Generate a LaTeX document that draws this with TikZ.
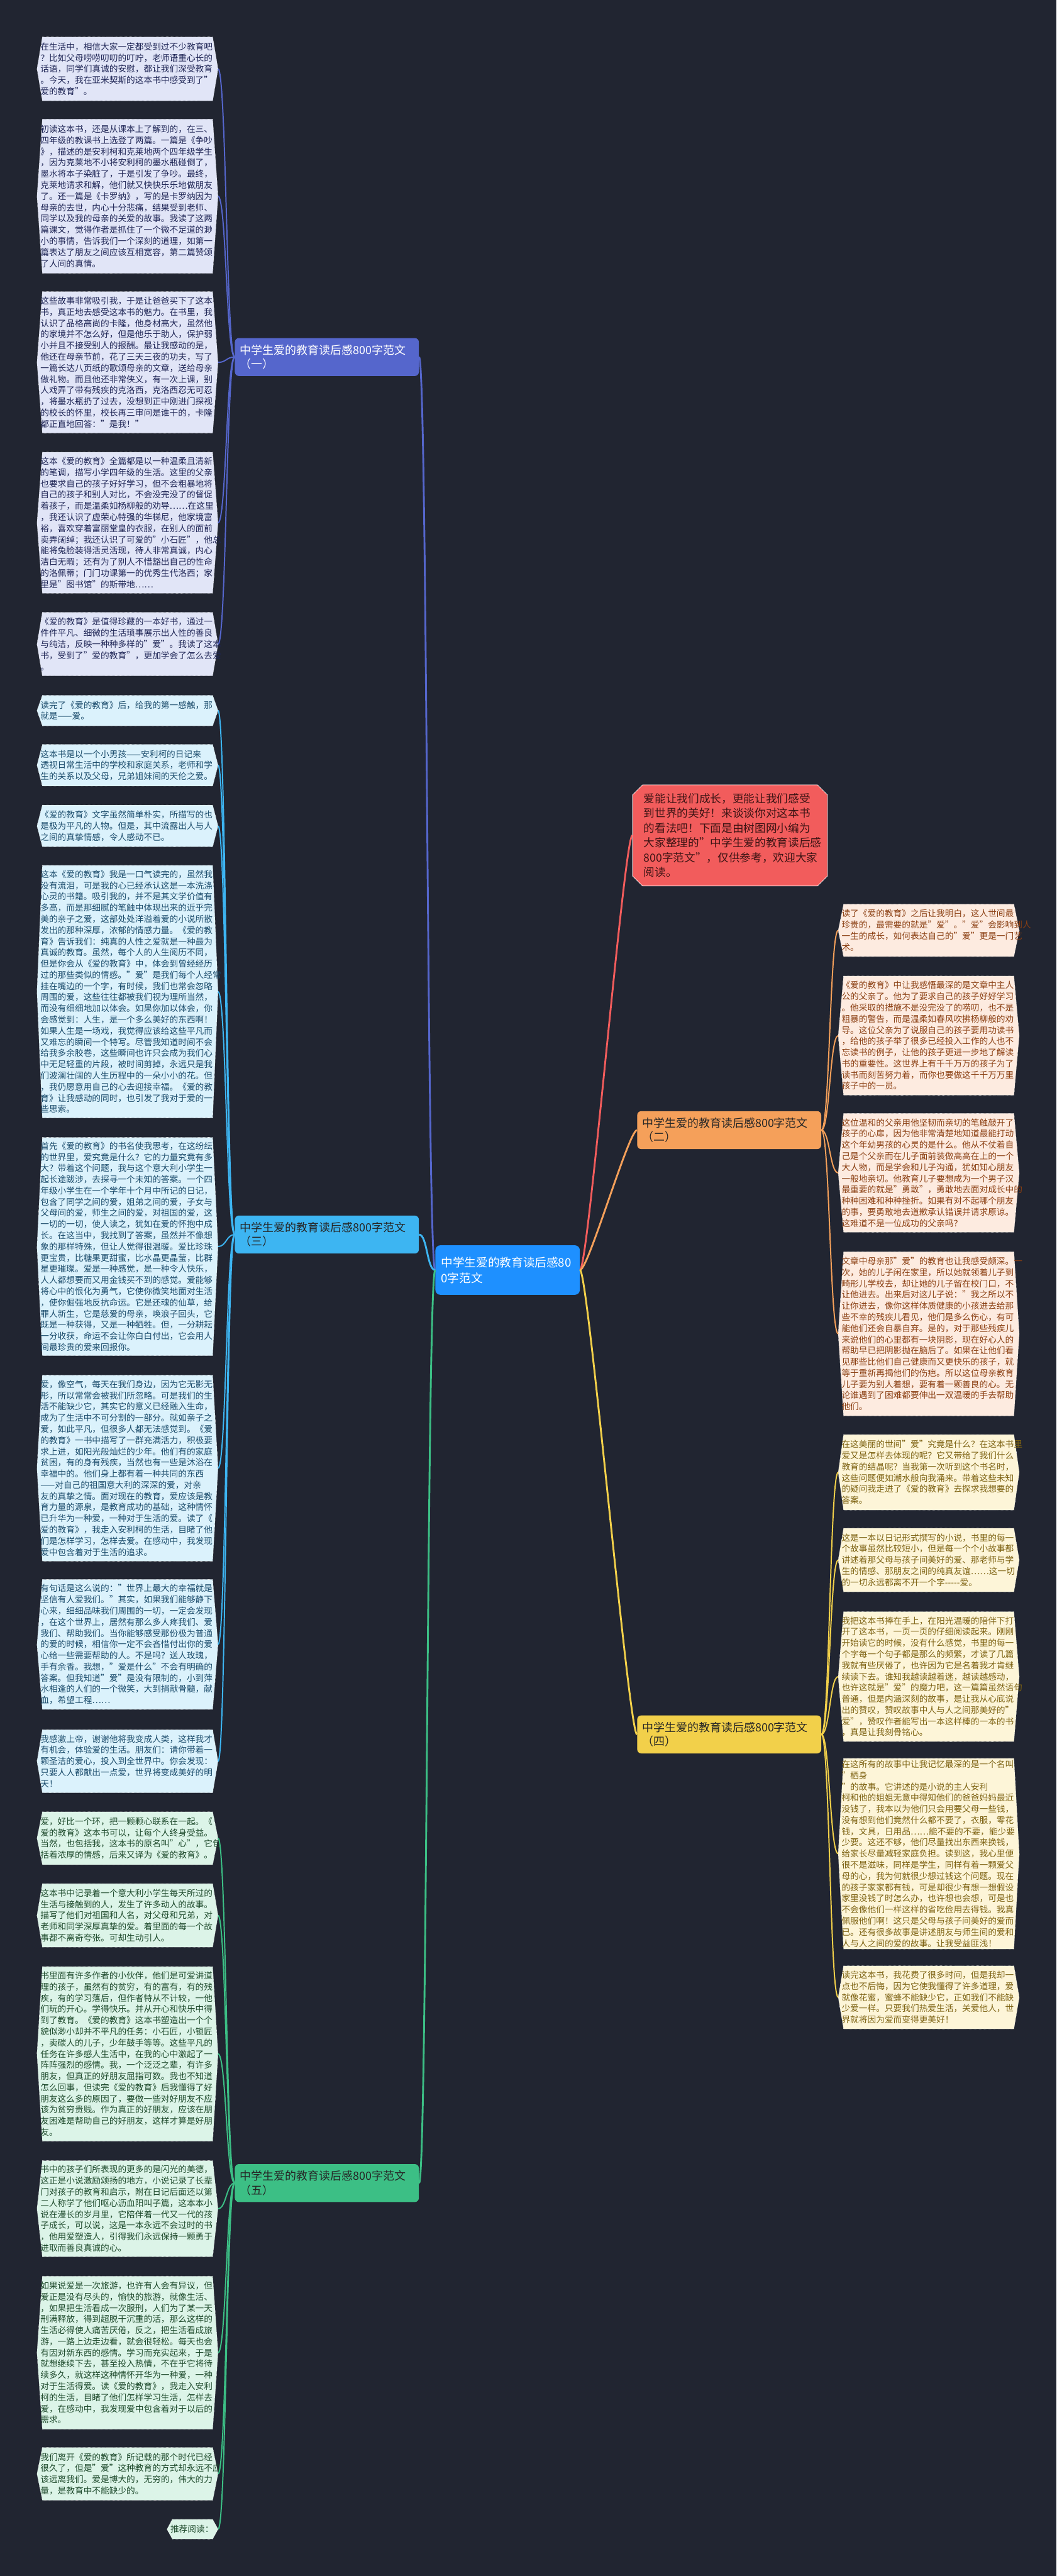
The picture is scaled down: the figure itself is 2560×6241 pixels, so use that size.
\documentclass[tikz,border=0pt]{standalone}
\usepackage{fontspec}
\setmainfont{Noto Sans CJK SC}
\usetikzlibrary{calc,shapes.misc}
\pgfdeclarelayer{bg}
\pgfsetlayers{bg,main}
\definecolor{bgc}{HTML}{212531}
\definecolor{cA}{HTML}{5566CC}\definecolor{fA}{HTML}{E1E5F7}\definecolor{tA}{HTML}{1F2656}
\definecolor{cC}{HTML}{3DB5F2}\definecolor{fC}{HTML}{DBF2FC}\definecolor{tC}{HTML}{1B4C6C}
\definecolor{cE}{HTML}{3CBF85}\definecolor{fE}{HTML}{DCF4E8}\definecolor{tE}{HTML}{1E4A2C}
\definecolor{cB}{HTML}{F5A05A}\definecolor{fB}{HTML}{FDEBE0}\definecolor{tB}{HTML}{8B3F12}
\definecolor{cD}{HTML}{F2D04A}\definecolor{fD}{HTML}{FDF5D8}\definecolor{tD}{HTML}{7D6212}
\definecolor{cR}{HTML}{F25C5C}\definecolor{tR}{HTML}{3D1414}
\definecolor{cM}{HTML}{1E90FF}
\newcommand\leaffont{\fontsize{10.43pt}{13.55pt}\selectfont}
\newcommand\leafnode[7]{%
  \node[leaf,#5,minimum height=#4*0.5pt,#6] (#1) at (#2,#3) {#7};
  \begin{pgfonlayer}{bg}
  \path[#5fill] ($(#1.north west)+(6.5pt,0)$) -- ($(#1.north east)+(-6.5pt,0)$) -- (#1.east)
    -- ($(#1.south east)+(-6.5pt,0)$) -- ($(#1.south west)+(6.5pt,0)$) -- (#1.west) -- cycle;
  \end{pgfonlayer}}
\begin{document}
\begin{tikzpicture}[x=0.5pt,y=-0.5pt,
  leaf/.style={text width=211pt,inner xsep=4pt,inner ysep=2pt,align=left,font=\leaffont},
  gA/.style={text=tA},gAfill/.style={fill=fA,draw=white!80!gray,line width=0.5pt,densely dotted},
  gC/.style={text=tC},gCfill/.style={fill=fC,draw=white!80!gray,line width=0.5pt,densely dotted},
  gE/.style={text=tE},gEfill/.style={fill=fE,draw=white!80!gray,line width=0.5pt,densely dotted},
  gB/.style={text=tB},gBfill/.style={fill=fB,draw=white!80!gray,line width=0.5pt,densely dotted},
  gD/.style={text=tD},gDfill/.style={fill=fD,draw=white!80!gray,line width=0.5pt,densely dotted},
  branch/.style={rounded corners=5pt,minimum width=223pt,minimum height=46pt,text width=211pt,
    inner xsep=6pt,align=left,font=\fontsize{13.7pt}{17pt}\selectfont},
  leafconn/.style={line width=1.5pt},
  mainconn/.style={line width=2.2pt}]
\useasboundingbox (0,0) rectangle (2560,6241);
\begin{pgfonlayer}{bg}
\fill[bgc] (0,0) rectangle (2560,6241);
\end{pgfonlayer}

% centre and branches
\node[rounded corners=6pt,fill=cM,text=white,minimum width=175pt,minimum height=60pt,text width=161pt,
  inner xsep=7pt,align=left,font=\fontsize{14.2pt}{19pt}\selectfont] (M) at (1230,3077)
  {中学生爱的教育读后感80\\0字范文};
\node[branch,fill=cA,text=white] (b1) at (792,865) {中学生爱的教育读后感800字范文\\（一）};
\node[branch,fill=cC,text=black!85] (b3) at (792,2991) {中学生爱的教育读后感800字范文\\（三）};
\node[branch,fill=cE,text=black!85] (b5) at (792,5289) {中学生爱的教育读后感800字范文\\（五）};
\node[branch,fill=cB,text=black!85] (b2) at (1767,2738) {中学生爱的教育读后感800字范文\\（二）};
\node[branch,fill=cD,text=black!85] (b4) at (1767,4202) {中学生爱的教育读后感800字范文\\（四）};
\node[chamfered rectangle,chamfered rectangle xsep=6pt,chamfered rectangle ysep=6pt,fill=cR,draw=white,line width=0.6pt,
  text=tR,minimum width=224pt,minimum height=122.5pt,text width=209pt,inner xsep=7.5pt,align=left,
  font=\fontsize{13.45pt}{17.85pt}\selectfont] (R) at (1769,2024)
  {爱能让我们成长，更能让我们感受\\到世界的美好！来谈谈你对这本书\\的看法吧！下面是由树图网小编为\\大家整理的"中学生爱的教育读后感\\800字范文"，仅供参考，欢迎大家\\阅读。};

% (一)
\leafnode{L1}{309}{167}{154}{gA}{}{在生活中，相信大家一定都受到过不少教育吧\\？比如父母唠唠叨叨的叮咛，老师语重心长的\\话语，同学们真诚的安慰，都让我们深受教育\\。今天，我在亚米契斯的这本书中感受到了"\\爱的教育"。}
\leafnode{L2}{309}{475.5}{373}{gA}{}{初读这本书，还是从课本上了解到的，在三、\\四年级的教课书上选登了两篇。一篇是《争吵\\》，描述的是安利柯和克莱地两个四年级学生\\，因为克莱地不小将安利柯的墨水瓶碰倒了，\\墨水将本子染脏了，于是引发了争吵。最终，\\克莱地请求和解，他们就又快快乐乐地做朋友\\了。还一篇是《卡罗纳》，写的是卡罗纳因为\\母亲的去世，内心十分悲痛，结果受到老师、\\同学以及我的母亲的关爱的故事。我读了这两\\篇课文，觉得作者是抓住了一个微不足道的渺\\小的事情，告诉我们一个深刻的道理，如第一\\篇表达了朋友之间应该互相宽容，第二篇赞颂\\了人间的真情。}
\leafnode{L3}{309}{878}{342}{gA}{}{这些故事非常吸引我，于是让爸爸买下了这本\\书，真正地去感受这本书的魅力。在书里，我\\认识了品格高尚的卡隆，他身材高大，虽然他\\的家境并不怎么好，但是他乐于助人，保护弱\\小并且不接受别人的报酬。最让我感动的是，\\他还在母亲节前，花了三天三夜的功夫，写了\\一篇长达八页纸的歌颂母亲的文章，送给母亲\\做礼物。而且他还非常侠义，有一次上课，别\\人戏弄了带有残疾的克洛西，克洛西忍无可忍\\，将墨水瓶扔了过去，没想到正中刚进门探视\\的校长的怀里，校长再三审问是谁干的，卡隆\\都正直地回答："是我！"}
\leafnode{L4}{309}{1266.5}{341}{gA}{}{这本《爱的教育》全篇都是以一种温柔且清新\\的笔调，描写小学四年级的生活。这里的父亲\\也要求自己的孩子好好学习，但不会粗暴地将\\自己的孩子和别人对比，不会没完没了的督促\\着孩子，而是温柔如杨柳般的劝导……在这里\\，我还认识了虚荣心特强的华梯尼，他家境富\\裕，喜欢穿着富丽堂皇的衣服，在别人的面前\\卖弄阔绰；我还认识了可爱的"小石匠"，他总\\能将兔脸装得活灵活现，待人非常真诚，内心\\洁白无暇；还有为了别人不惜豁出自己的性命\\的洛佩蒂；门门功课第一的优秀生代洛西；家\\里是"图书馆"的斯带地……}
\leafnode{L5}{309}{1560.5}{153}{gA}{}{《爱的教育》是值得珍藏的一本好书，通过一\\件件平凡、细微的生活琐事展示出人性的善良\\与纯洁，反映一种种多样的"爱"。我读了这本\\书，受到了"爱的教育"，更加学会了怎么去爱\\。}

% (三)
\leafnode{L6}{309}{1721.5}{73}{gC}{}{读完了《爱的教育》后，给我的第一感触，那\\就是——爱。}
\leafnode{L7}{309}{1854}{100}{gC}{}{这本书是以一个小男孩——安利柯的日记来\\透视日常生活中的学校和家庭关系，老师和学\\生的关系以及父母，兄弟姐妹间的天伦之爱。}
\leafnode{L8}{309}{2001}{100}{gC}{}{《爱的教育》文字虽然简单朴实，所描写的也\\是极为平凡的人物。但是，其中流露出人与人\\之间的真挚情感，令人感动不已。}
\leafnode{L9}{309}{2402.5}{611}{gC}{}{这本《爱的教育》我是一口气读完的，虽然我\\没有流泪，可是我的心已经承认这是一本洗涤\\心灵的书籍。吸引我的，并不是其文学价值有\\多高，而是那细腻的笔触中体现出来的近乎完\\美的亲子之爱，这部处处洋溢着爱的小说所散\\发出的那种深厚，浓郁的情感力量。《爱的教\\育》告诉我们：纯真的人性之爱就是一种最为\\真诚的教育。虽然，每个人的人生阅历不同，\\但是你会从《爱的教育》中，体会到曾经经历\\过的那些类似的情感。"爱"是我们每个人经常\\挂在嘴边的一个字，有时候，我们也常会忽略\\周围的爱，这些往往都被我们视为理所当然，\\而没有细细地加以体会。如果你加以体会，你\\会感觉到：人生，是一个多么美好的东西啊！\\如果人生是一场戏，我觉得应该给这些平凡而\\又难忘的瞬间一个特写。尽管我知道时间不会\\给我多余胶卷，这些瞬间也许只会成为我们心\\中无足轻重的片段，被时间剪掉，永远只是我\\们波澜壮阔的人生历程中的一朵小小的花。但\\，我仍愿意用自己的心去迎接幸福。《爱的教\\育》让我感动的同时，也引发了我对于爱的一\\些思索。}
\leafnode{L10}{309}{3020}{528}{gC}{}{首先《爱的教育》的书名使我思考，在这纷纭\\的世界里，爱究竟是什么？它的力量究竟有多\\大？带着这个问题，我与这个意大利小学生一\\起长途跋涉，去探寻一个未知的答案。一个四\\年级小学生在一个学年十个月中所记的日记，\\包含了同学之间的爱，姐弟之间的爱，子女与\\父母间的爱，师生之间的爱，对祖国的爱，这\\一切的一切，使人读之，犹如在爱的怀抱中成\\长。在这当中，我找到了答案，虽然并不像想\\象的那样特殊，但让人觉得很温暖。爱比珍珠\\更宝贵，比糖果更甜蜜，比水晶更晶莹，比群\\星更璀璨。爱是一种感觉，是一种令人快乐，\\人人都想要而又用金钱买不到的感觉。爱能够\\将心中的恨化为勇气，它使你微笑地面对生活\\，使你倔强地反抗命运。它是还魂的仙草，给\\罪人新生，它是慈爱的母亲，唤浪子回头，它\\既是一种获得，又是一种牺牲。但，一分耕耘\\一分收获，命运不会让你白白付出，它会用人\\间最珍贵的爱来回报你。}
\leafnode{L11}{309}{3557}{450}{gC}{}{爱，像空气，每天在我们身边，因为它无影无\\形，所以常常会被我们所忽略。可是我们的生\\活不能缺少它，其实它的意义已经融入生命，\\成为了生活中不可分割的一部分。就如亲子之\\爱，如此平凡，但很多人都无法感觉到。《爱\\的教育》一书中描写了一群充满活力，积极要\\求上进，如阳光般灿烂的少年。他们有的家庭\\贫困，有的身有残疾，当然也有一些是沐浴在\\幸福中的。他们身上都有着一种共同的东西\\——对自己的祖国意大利的深深的爱，对亲\\友的真挚之情。面对现在的教育，爱应该是教\\育力量的源泉，是教育成功的基础，这种情怀\\已升华为一种爱，一种对于生活的爱。读了《\\爱的教育》，我走入安利柯的生活，目睹了他\\们是怎样学习，怎样去爱。在感动中，我发现\\爱中包含着对于生活的追求。}
\leafnode{L12}{309}{3984}{314}{gC}{}{有句话是这么说的："世界上最大的幸福就是\\坚信有人爱我们。"其实，如果我们能够静下\\心来，细细品味我们周围的一切，一定会发现\\，在这个世界上，居然有那么多人疼我们、爱\\我们、帮助我们。当你能够感受那份极为普通\\的爱的时候，相信你一定不会吝惜付出你的爱\\心给一些需要帮助的人。不是吗？送人玫瑰，\\手有余香。我想，"爱是什么"不会有明确的\\答案。但我知道"爱"是没有限制的，小到萍\\水相逢的人们的一个微笑，大到捐献骨髓，献\\血，希望工程……}
\leafnode{L13}{309}{4267}{152}{gC}{}{我感激上帝，谢谢他将我变成人类，这样我才\\有机会，体验爱的生活。朋友们：请你带着一\\颗圣洁的爱心，投入到全世界中。你会发现：\\只要人人都献出一点爱，世界将变成美好的明\\天！}

% (五)
\leafnode{L14}{309}{4453.5}{127}{gE}{}{爱，好比一个环，把一颗颗心联系在一起。《\\爱的教育》这本书可以，让每个人终身受益。\\当然，也包括我，这本书的原名叫"心"，它包\\括着浓厚的情感，后来又译为《爱的教育》。}
\leafnode{L15}{309}{4640.5}{153}{gE}{}{这本书中记录着一个意大利小学生每天所过的\\生活与接触到的人，发生了许多动人的故事。\\描写了他们对祖国和人名，对父母和兄弟，对\\老师和同学深厚真挚的爱。着里面的每一个故\\事都不离奇夸张。可却生动引人。}
\leafnode{L16}{309}{4976}{422}{gE}{}{书里面有许多作者的小伙伴，他们是可爱讲道\\理的孩子，虽然有的贫穷，有的富有，有的残\\疾，有的学习落后，但作者特从不计较，一他\\们玩的开心。学得快乐。并从开心和快乐中得\\到了教育。《爱的教育》这本书塑造出一个个\\貌似渺小却并不平凡的任务：小石匠，小锁匠\\，卖碳人的儿子，少年鼓手等等。这些平凡的\\任务在许多感人生活中，在我的心中激起了一\\阵阵强烈的感情。我，一个泛泛之辈，有许多\\朋友，但真正的好朋友屈指可数。我也不知道\\怎么回事，但读完《爱的教育》后我懂得了好\\朋友这么多的原因了，要做一些对好朋友不应\\该为贫穷贵贱。作为真正的好朋友，应该在朋\\友困难是帮助自己的好朋友，这样才算是好朋\\友。}
\leafnode{L17}{309}{5351}{232}{gE}{}{书中的孩子们所表现的更多的是闪光的美德，\\这正是小说激励颂扬的地方，小说记录了长辈\\门对孩子的教育和启示，附在日记后面还以第\\二人称学了他们呕心沥血阳叫子篇，这本本小\\说在漫长的岁月里，它陪伴着一代又一代的孩\\子成长，可以说，这是一本永远不会过时的书\\，他用爱塑造人，引得我们永远保持一颗勇于\\进取而善良真诚的心。}
\leafnode{L18}{309}{5700}{370}{gE}{}{如果说爱是一次旅游，也许有人会有异议，但\\爱正是没有尽头的，愉快的旅游，就像生活、\\，如果把生活看成一次服刑，人们为了某一天\\刑满释放，得到超脱干沉重的活，那么这样的\\生活必得使人痛苦厌倦，反之，把生活看成旅\\游，一路上边走边看，就会很轻松。每天也会\\有因对新东西的感情。学习而充实起来，于是\\就想继续下去，甚至投入热情，不在乎它将待\\续多久，就这样这种情怀开华为一种爱，一种\\对于生活得爱。读《爱的教育》，我走入安利\\柯的生活，目睹了他们怎样学习生活，怎样去\\爱，在感动中，我发现爱中包含着对于以后的\\需求。}
\leafnode{L19}{309}{5993.5}{127}{gE}{}{我们离开《爱的教育》所记载的那个时代已经\\很久了，但是"爱"这种教育的方式却永远不应\\该远离我们。爱是博大的，无穷的，伟大的力\\量，是教育中不能缺少的。}
\leafnode{L20}{466.5}{6127.5}{47}{gE}{text width=53.5pt}{推荐阅读：}

% (二)
\leafnode{R1}{2250.5}{2254}{126}{gB}{}{读了《爱的教育》之后让我明白，这人世间最\\珍贵的，最需要的就是"爱"。"爱"会影响到人\\一生的成长，如何表达自己的"爱"更是一门艺\\术。}
\leafnode{R2}{2250.5}{2509}{288}{gB}{}{《爱的教育》中让我感悟最深的是文章中主人\\公的父亲了。他为了要求自己的孩子好好学习\\。他采取的措施不是没完没了的唠叨，也不是\\粗暴的警告，而是温柔如春风吹拂杨柳般的劝\\导。这位父亲为了说服自己的孩子要用功读书\\，给他的孩子举了很多已经投入工作的人也不\\忘读书的例子，让他的孩子更进一步地了解读\\书的重要性。这世界上有千千万万的孩子为了\\读书而刻苦努力着，而你也要做这千千万万里\\孩子中的一员。}
\leafnode{R3}{2250.5}{2841.5}{287}{gB}{}{这位温和的父亲用他坚韧而亲切的笔触敲开了\\孩子的心扉，因为他非常清楚地知道最能打动\\这个年幼男孩的心灵的是什么。他从不仗着自\\己是个父亲而在儿子面前装做高高在上的一个\\大人物，而是学会和儿子沟通，犹如知心朋友\\一般地亲切。他教育儿子要想成为一个男子汉\\最重要的就是"勇敢"，勇敢地去面对成长中的\\种种困难和种种挫折。如果有对不起哪个朋友\\的事，要勇敢地去道歉承认错误并请求原谅。\\这难道不是一位成功的父亲吗？}
\leafnode{R4}{2250.5}{3231.5}{397}{gB}{}{文章中母亲那"爱"的教育也让我感受颇深。一\\次，她的儿子闲在家里，所以她就领着儿子到\\畸形儿学校去，却让她的儿子留在校门口，不\\让他进去。出来后对这儿子说："我之所以不\\让你进去，像你这样体质健康的小孩进去给那\\些不幸的残疾儿看见，他们是多么伤心，有可\\能他们还会自暴自弃。是的，对于那些残疾儿\\来说他们的心里都有一块阴影，现在好心人的\\帮助早已把阴影抛在脑后了。如果在让他们看\\见那些比他们自己健康而又更快乐的孩子，就\\等于重新再揭他们的伤疤。所以这位母亲教育\\儿子要为别人着想，要有着一颗善良的心。无\\论谁遇到了困难都要伸出一双温暖的手去帮助\\他们。}

% (四)
\leafnode{R5}{2250.5}{3567}{182}{gD}{}{在这美丽的世间"爱"究竟是什么？在这本书里\\爱又是怎样去体现的呢？它又带给了我们什么\\教育的结晶呢？当我第一次听到这个书名时，\\这些问题便如潮水般向我涌来。带着这些未知\\的疑问我走进了《爱的教育》去探求我想要的\\答案。}
\leafnode{R6}{2250.5}{3779.5}{153}{gD}{}{这是一本以日记形式撰写的小说，书里的每一\\个故事虽然比较短小，但是每一个个小故事都\\讲述着那父母与孩子间美好的爱、那老师与学\\生的情感、那朋友之间的纯真友谊……这一切\\的一切永远都离不开一个字-{}-{}-{}-{}-爱。}
\leafnode{R7}{2250.5}{4062}{314}{gD}{}{我把这本书捧在手上，在阳光温暖的陪伴下打\\开了这本书，一页一页的仔细阅读起来。刚刚\\开始读它的时候，没有什么感觉，书里的每一\\个字每一个句子都是那么的频繁，才读了几篇\\我就有些厌倦了，也许因为它是名着我才肯继\\续读下去。谁知我越读越着迷，越读越感动，\\也许这就是"爱"的魔力吧，这一篇篇虽然语句\\普通，但是内涵深刻的故事，是让我从心底说\\出的赞叹，赞叹故事中人与人之间那美好的"\\爱"，赞叹作者能写出一本这样棒的一本的书\\，真是让我刻骨铭心。}
\leafnode{R8}{2250.5}{4491}{452}{gD}{}{在这所有的故事中让我记忆最深的是一个名叫\\"栖身 "的故事。它讲述的是小说的主人安利\\柯和他的姐姐无意中得知他们的爸爸妈妈最近\\没钱了，我本以为他们只会用要父母一些钱，\\没有想到他们竟然什么都不要了，衣服，零花\\钱，文具，日用品……能不要的不要，能少要\\少要。这还不够，他们尽量找出东西来换钱，\\给家长尽量减轻家庭负担。读到这，我心里便\\很不是滋味，同样是学生，同样有着一颗爱父\\母的心，我为何就很少想过钱这个问题。现在\\的孩子家家都有钱，可是却很少有想一想假设\\家里没钱了时怎么办，也许想也会想，可是也\\不会像他们一样这样的省吃俭用去得钱。我真\\佩服他们啊！这只是父母与孩子间美好的爱而\\已。还有很多故事是讲述朋友与师生间的爱和\\人与人之间的爱的故事。让我受益匪浅！}
\leafnode{R9}{2250.5}{4839}{152}{gD}{}{读完这本书，我花费了很多时间，但是我却一\\点也不后悔，因为它使我懂得了许多道理，爱\\就像花蜜，蜜蜂不能缺少它，正如我们不能缺\\少爱一样。只要我们热爱生活，关爱他人，世\\界就将因为爱而变得更美好！}

% connectors
\draw[mainconn,cA] (M.west) .. controls +(-20,0) and +(20,0) .. (b1.east);
\draw[mainconn,cC] (M.west) .. controls +(-20,0) and +(20,0) .. (b3.east);
\draw[mainconn,cE] (M.west) .. controls +(-20,0) and +(20,0) .. (b5.east);
\draw[mainconn,cR] (M.east) .. controls +(20,0) and +(-20,0) .. (R.west);
\draw[mainconn,cB] (M.east) .. controls +(20,0) and +(-20,0) .. (b2.west);
\draw[mainconn,cD] (M.east) .. controls +(20,0) and +(-20,0) .. (b4.west);
\foreach \n in {L1,L2,L3,L4,L5}
  \draw[leafconn,cA] (b1.west) .. controls +(-20,0) and +(20,0) .. (\n.east);
\foreach \n in {L6,L7,L8,L9,L10,L11,L12,L13}
  \draw[leafconn,cC] (b3.west) .. controls +(-20,0) and +(20,0) .. (\n.east);
\foreach \n in {L14,L15,L16,L17,L18,L19,L20}
  \draw[leafconn,cE] (b5.west) .. controls +(-20,0) and +(20,0) .. (\n.east);
\foreach \n in {R1,R2,R3,R4}
  \draw[leafconn,cB] (b2.east) .. controls +(20,0) and +(-20,0) .. (\n.west);
\foreach \n in {R5,R6,R7,R8,R9}
  \draw[leafconn,cD] (b4.east) .. controls +(20,0) and +(-20,0) .. (\n.west);
\end{tikzpicture}
\end{document}
